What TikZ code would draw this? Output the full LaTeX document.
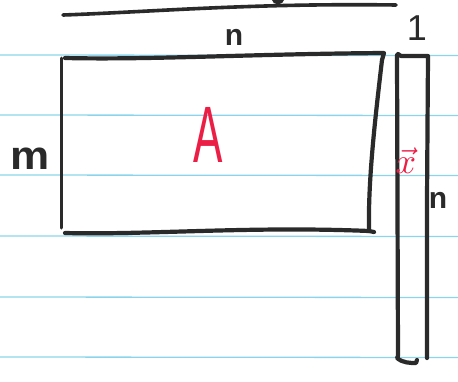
\documentclass[tikz,border=0pt]{standalone}
\usepackage{fontspec}
\setmainfont{Liberation Sans}
\definecolor{ruled}{RGB}{140,212,236}
\definecolor{ink}{RGB}{42,42,42}
\definecolor{redink}{RGB}{235,30,70}
\begin{document}
\begin{tikzpicture}[x=1pt,y=-1pt,
  rule/.style={draw=ruled,line width=1.3pt},
  pen/.style={draw=ink,line width=4.2pt,line cap=round,line join=round},
  thinpen/.style={draw=ink,line width=3pt,line cap=round,line join=round},
  lbl/.style={text=ink,inner sep=0pt,font=\bfseries},
  redlbl/.style={text=redink,inner sep=0pt}]
\useasboundingbox (0,0) rectangle (458,381);
\fill[white] (0,0) rectangle (458,381);
% ruled paper lines
\foreach \y in {55,115,175,236,297,357} \draw[rule] (0,\y) -- (458,\y+0.5);
% top stroke (cut off)
\draw[ink,line width=3.6pt,line cap=round] (63,15) .. controls (150,12) and (250,3) .. (396,5);
\fill[ink] (278,0) ellipse (6 and 4);
% matrix A
\coordinate (a1) at (65,58);
\coordinate (a2) at (384,53);
\coordinate (a3) at (369,231);
\coordinate (a4) at (65,233);
\draw[pen] (a1) .. controls (150,60) and (250,54) .. (a2) -- (382,60) .. controls (375,120) and (368,180) .. (a3) -- (374,232);
\draw[pen] (a4) .. controls (150,235) and (250,226) .. (a3);
\draw[thinpen] (61,58) -- (61,228);
% vector x
\draw[pen] (397,55) -- (398,356) -- (397,358) .. controls (403,363) and (410,363) .. (416,363) -- (417,360);
\draw[pen] (398,54) -- (401,56) -- (428,56) -- (427,200) -- (427,358);
% labels
\node[lbl,font=\bfseries\fontsize{30}{30}\selectfont] (n) at (234,37) {n};
\node[lbl,font=\bfseries\fontsize{40}{40}\selectfont,transform shape,xscale=1.1] (m) at (30,159) {m};
\node[lbl,font=\fontsize{36}{36}\selectfont] (one) at (417,28) {1};
\node[redlbl,font=\fontsize{80}{80}\selectfont,transform shape,xscale=0.55] (A) at (208,135) {A};
\node[redlbl] (x) at (406,161) {\scalebox{3.6}{$\vec{x}$}};
\node[lbl,font=\bfseries\fontsize{30}{30}\selectfont] (nr) at (438,200) {n};
\end{tikzpicture}
\end{document}
